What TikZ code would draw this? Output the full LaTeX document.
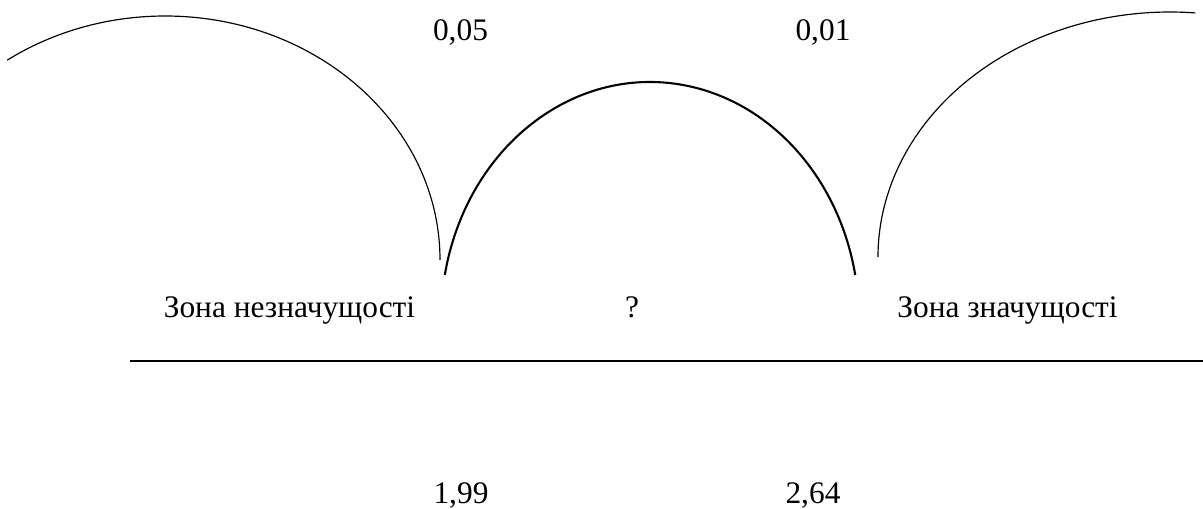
\documentclass[tikz,border=0pt]{standalone}
\usepackage{fontspec}
\setmainfont{Liberation Serif}
\usepackage{tikz}

\begin{document}
\begin{tikzpicture}[x=0.3825pt, y=0.3825pt,
    every node/.style={inner sep=0pt, anchor=base, font=\fontsize{12}{14}\selectfont},
    thinarc/.style={line width=0.45pt},
    midarc/.style={line width=0.8pt}]
      \useasboundingbox (0,0) rectangle (1203,-509);

      % Arc start points
      \coordinate (la) at (440,-260);
      \coordinate (ma) at (444.8,-275);
      \coordinate (ra) at (878,-257);

      % Arcs
      \draw[thinarc] (la) arc[start angle=0, end angle=125, x radius=275, y radius=244];
      \draw[midarc] (ma) arc[start angle=169.1, end angle=10.9, x radius=209, y radius=238];
      \draw[thinarc] (ra) arc[start angle=180, end angle=85, x radius=292, y radius=245];

      % Levels
      \node (p1) at (460.5,-40) {0,05};
      \node (p2) at (823,-40) {0,01};

      % Zones
      \node (z1) at (289.5,-317) {Зона незначущості};
      \node (zq) at (632,-317) {?};
      \node (z2) at (1007.5,-317) {Зона значущості};

      % Axis
      \coordinate (ax0) at (130,-361);
      \coordinate (ax1) at (1203,-361);
      \draw[line width=0.6pt] (ax0) -- (ax1);

      % Critical values
      \node (t1) at (461,-503) {1,99};
      \node (t2) at (813,-503) {2,64};
    \end{tikzpicture}
\end{document}
